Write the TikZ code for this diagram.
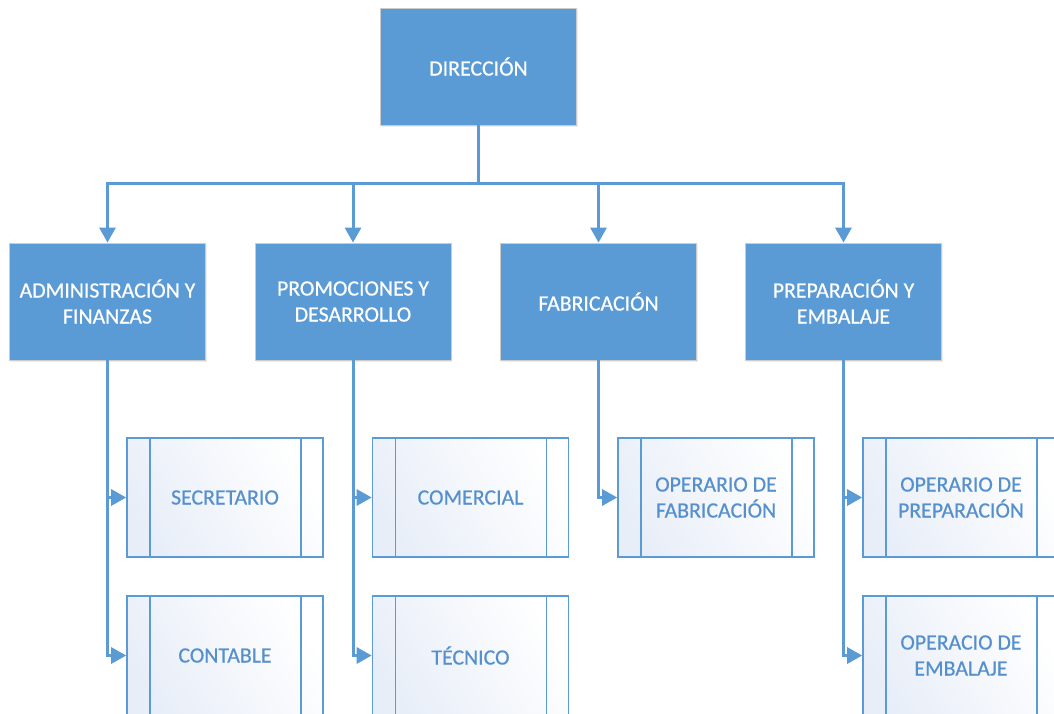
\documentclass[tikz,border=0pt]{standalone}
\usepackage{fontspec}
\setmainfont{Carlito}[FakeBold=0.5]
\usetikzlibrary{arrows.meta,shadows}
\definecolor{obl}{HTML}{5B9BD5}
\definecolor{subtxt}{HTML}{5590CD}
\definecolor{subfill}{HTML}{E8EEF8}
\begin{document}
\begin{tikzpicture}[x=1pt,y=-1pt,
  mainbox/.style={fill=obl, draw=black!20, line width=0.8pt, minimum width=196pt, minimum height=117pt,
     inner sep=0pt, align=center, text=white, font=\fontsize{21.8}{26}\selectfont,
     drop shadow={shadow xshift=1pt,shadow yshift=-2pt,opacity=0.15}},
  subbox/.style={draw=obl, line width=1.6pt, left color=subfill, right color=white, shading angle=120,
     minimum width=196pt, minimum height=119pt, inner sep=0pt, align=center, text=subtxt,
     font=\fontsize{21.8}{26}\selectfont,
     path picture={\draw[obl,line width=1.6pt]
        ([xshift=23pt]path picture bounding box.north west) -- ([xshift=23pt]path picture bounding box.south west)
        ([xshift=-22pt]path picture bounding box.north east) -- ([xshift=-22pt]path picture bounding box.south east);}},
  conn/.style={draw=obl, line width=3pt},
  arr/.style={conn, -{Triangle[length=15pt,width=16pt]}}
]
\useasboundingbox (0,0) rectangle (1054,713);
\clip (0,0) rectangle (1054,713);
% level 1
\node[mainbox] (dir) at (478.5,66.5) {DIRECCIÓN};
% level 2
\node[mainbox] (adm) at (107.5,301.5) {ADMINISTRACIÓN Y\\FINANZAS};
\node[mainbox] (pro) at (353,301.5) {PROMOCIONES Y\\DESARROLLO};
\node[mainbox] (fab) at (598.5,301.5) {FABRICACIÓN};
\node[mainbox] (pre) at (843.5,301.5) {PREPARACIÓN Y\\EMBALAJE};
% level 3
\node[subbox] (sec) at (225,497.5) {SECRETARIO};
\node[subbox] (con) at (225,655.5) {CONTABLE};
\node[subbox] (com) at (470.5,497.5) {COMERCIAL};
\node[subbox] (tec) at (470.5,655.5) {TÉCNICO};
\node[subbox] (opf) at (716,497.5) {OPERARIO DE\\FABRICACIÓN};
\node[subbox] (opp) at (961,497.5) {OPERARIO DE\\PREPARACIÓN};
\node[subbox] (ope) at (961,655.5) {OPERACIO DE\\EMBALAJE};
% connectors
\coordinate (bus) at (dir.south |- 0,183);
\draw[conn] (dir.south) -- (bus);
\draw[arr] (bus) -| (adm.north);
\draw[arr] (bus) -| (pro.north);
\draw[arr] (bus) -| (fab.north);
\draw[arr] (bus) -| (pre.north);
\draw[arr] (adm.south) |- (sec.west);
\draw[arr] (adm.south) |- (con.west);
\draw[arr] (pro.south) |- (com.west);
\draw[arr] (pro.south) |- (tec.west);
\draw[arr] (fab.south) |- (opf.west);
\draw[arr] (pre.south) |- (opp.west);
\draw[arr] (pre.south) |- (ope.west);
\end{tikzpicture}
\end{document}
